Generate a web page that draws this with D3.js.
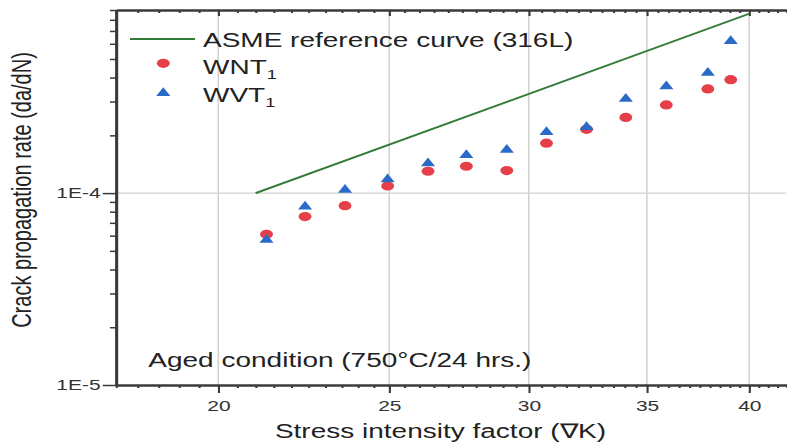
<!DOCTYPE html>
<html>
<head>
<meta charset="utf-8">
<script src="https://cdn.jsdelivr.net/npm/d3@7"></script>
<style>
  html, body { margin: 0; padding: 0; background: #fff; }
  svg { display: block; font-family: "Liberation Sans", Arial, sans-serif; }
</style>
</head>
<body>
<svg id="chart"></svg>
<script>
// Stress intensity factor values (shared by both series).
const deltaK = [21.3, 22.4, 23.6, 24.95, 26.3, 27.65, 29.15, 30.7, 32.35, 34.05, 35.9, 37.9, 39.05];
// Crack propagation rates.
const wntRate = [6.1e-5, 7.55e-5, 8.6e-5, 1.09e-4, 1.3e-4, 1.38e-4, 1.31e-4, 1.82e-4, 2.15e-4, 2.48e-4, 2.88e-4, 3.49e-4, 3.9e-4];
const wvtRate = [5.7e-5, 8.5e-5, 1.04e-4, 1.18e-4, 1.43e-4, 1.58e-4, 1.68e-4, 2.08e-4, 2.21e-4, 3.1e-4, 3.6e-4, 4.23e-4, 6.2e-4];
// ASME reference curve end points.
const asmeK = [21, 40];
const asmeRate = [1.0e-4, 8.6e-4];
// Ticks.
const xMajor = [20, 25, 30, 35, 40];
const yMajor = [1e-5, 1e-4];
const yTickLabels = ["1E-5", "1E-4"];
const legendNames = ["ASME reference curve (316L)", "WNT", "WVT"];

(function () {
  const W = 787, H = 448;
  // The source picture is stretched sideways, so draw in a narrower box.
  const stretch = 1.4;
  const vw = W / stretch;

  const svg = d3.select("#chart")
    .attr("width", W).attr("height", H)
    .attr("viewBox", `0 0 ${vw} ${H}`)
    .attr("preserveAspectRatio", "none");

  const x = d3.scaleLog().domain([17.5, 42]).range([116 / stretch, 786.5 / stretch]);
  const y = d3.scaleLog().domain([1e-5, 9e-4]).range([385, 10]);

  const axisColor = "#3a3a3a";
  const red = "#e5404a", blue = "#2a6ac8", green = "#317a35";

  // Grid lines.
  svg.append("g").selectAll("line").data(xMajor).join("line")
    .attr("x1", d => x(d)).attr("x2", d => x(d))
    .attr("y1", y.range()[1]).attr("y2", y.range()[0])
    .attr("stroke", "#d2d2d2").attr("stroke-width", 1.1);
  svg.append("g").selectAll("line").data([1e-4]).join("line")
    .attr("x1", x.range()[0]).attr("x2", x.range()[1])
    .attr("y1", d => y(d)).attr("y2", d => y(d))
    .attr("stroke", "#d2d2d2").attr("stroke-width", 1.2);

  // Minor tick values.
  const xMinor = d3.range(17.5, 42.01, 0.5).filter(v => xMajor.indexOf(v) < 0);
  const yMinor = [];
  [1e-5, 1e-4].forEach(dec => {
    for (let k = 2; k <= 9; k++) yMinor.push(k * dec);
  });

  function styleAxis(g) {
    g.select(".domain").attr("stroke", axisColor).attr("stroke-width", 2);
    g.selectAll(".tick line").attr("stroke", axisColor).attr("stroke-width", 1.5);
    g.selectAll(".tick text").attr("fill", "#333").attr("font-size", 15)
      .attr("font-family", "Liberation Sans, Arial, sans-serif");
  }

  // Bottom axis.
  svg.append("g").attr("transform", `translate(0,${y.range()[0]})`)
    .call(d3.axisBottom(x).tickValues(xMinor).tickSize(3).tickSizeOuter(0).tickFormat(""))
    .call(styleAxis);
  svg.append("g").attr("transform", `translate(0,${y.range()[0]})`)
    .call(d3.axisBottom(x).tickValues(xMajor).tickSize(8).tickSizeOuter(0)
      .tickPadding(7).tickFormat(d3.format("d")))
    .call(styleAxis);

  // Top axis, ticks pointing inward.
  svg.append("g").attr("transform", `translate(0,${y.range()[1]})`)
    .call(d3.axisTop(x).tickValues(xMinor).tickSize(-3).tickSizeOuter(0).tickFormat(""))
    .call(styleAxis);
  svg.append("g").attr("transform", `translate(0,${y.range()[1]})`)
    .call(d3.axisTop(x).tickValues(xMajor).tickSize(-6).tickSizeOuter(0).tickFormat(""))
    .call(styleAxis);

  // Left axis.
  svg.append("g").attr("transform", `translate(${x.range()[0]},0)`)
    .call(d3.axisLeft(y).tickValues(yMinor).tickSize(4.3).tickSizeOuter(0).tickFormat(""))
    .call(styleAxis);
  svg.append("g").attr("transform", `translate(${x.range()[0]},0)`)
    .call(d3.axisLeft(y).tickValues(yMajor).tickSize(9.5).tickSizeOuter(0)
      .tickPadding(1.5).tickFormat((d, i) => yTickLabels[i]))
    .call(styleAxis);

  // ASME reference line.
  const line = d3.line().x(d => x(d[0])).y(d => y(d[1]));
  svg.append("path")
    .datum(asmeK.map((k, i) => [k, asmeRate[i]]))
    .attr("d", line)
    .attr("fill", "none").attr("stroke", green).attr("stroke-width", 1.8);

  // WNT1 circles.
  svg.append("g").selectAll("circle").data(wntRate).join("circle")
    .attr("cx", (d, i) => x(deltaK[i])).attr("cy", d => y(d))
    .attr("r", 4.6).attr("fill", red);

  // WVT1 triangles.
  const tri = d3.symbol(d3.symbolTriangle).size(44);
  svg.append("g").selectAll("path").data(wvtRate).join("path")
    .attr("d", tri)
    .attr("transform", (d, i) => `translate(${x(deltaK[i])},${y(d)})`)
    .attr("fill", blue);

  // Legend.
  const lg = svg.append("g");
  lg.append("line")
    .attr("x1", 130 / stretch).attr("x2", 195 / stretch)
    .attr("y1", 39).attr("y2", 39)
    .attr("stroke", green).attr("stroke-width", 1.8);
  lg.append("circle")
    .attr("cx", 163.3 / stretch).attr("cy", 63.3).attr("r", 4.6).attr("fill", red);
  lg.append("path").attr("d", tri)
    .attr("transform", `translate(${163.3 / stretch},93)`).attr("fill", blue);

  const baselines = [46.7, 74, 101.7];
  legendNames.forEach((name, i) => {
    const t = lg.append("text")
      .attr("x", 203 / stretch).attr("y", baselines[i])
      .attr("font-size", 20).attr("fill", "#222");
    t.append("tspan").text(name);
    if (i > 0) t.append("tspan").attr("font-size", 13).attr("dy", 5).text("1");
  });

  // Annotation.
  svg.append("text")
    .attr("x", 148.3 / stretch).attr("y", 366.7)
    .attr("font-size", 20).attr("fill", "#222")
    .text("Aged condition (750\u00B0C/24 hrs.)");

  // Axis titles.
  svg.append("text")
    .attr("x", 440.5 / stretch).attr("y", 438)
    .attr("text-anchor", "middle")
    .attr("font-size", 20).attr("fill", "#222")
    .text("Stress intensity factor (\u2207K)");
  svg.append("text")
    .attr("transform", `translate(${31.5 / stretch},190) rotate(-90)`)
    .attr("text-anchor", "middle")
    .attr("font-size", 20).attr("fill", "#222")
    .text("Crack propagation rate (da/dN)");
})();
</script>
</body>
</html>
